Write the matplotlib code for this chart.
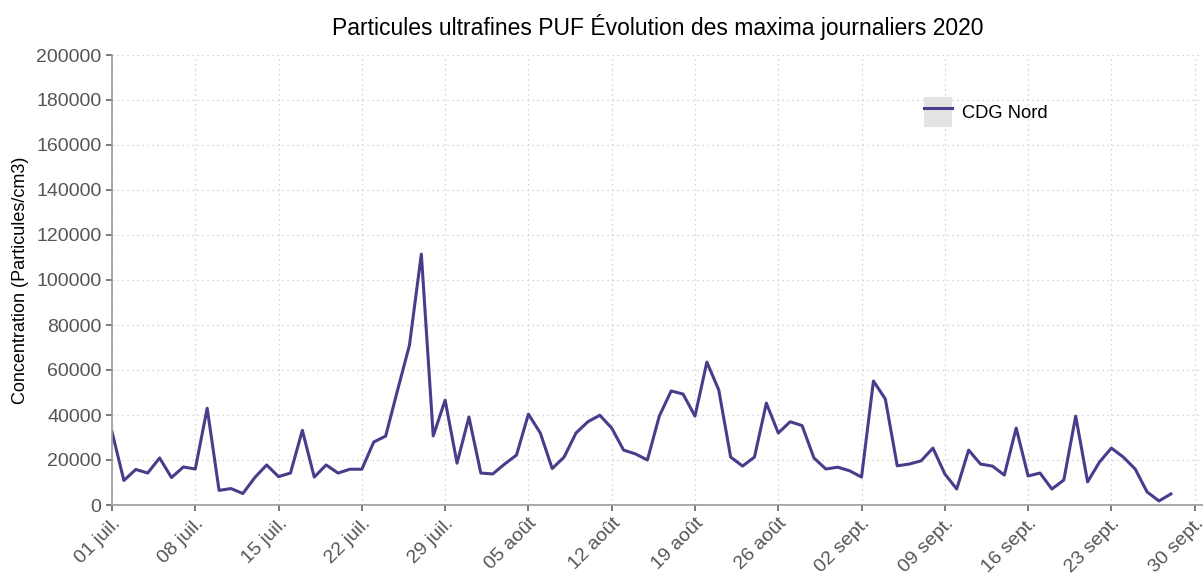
import matplotlib
matplotlib.use("Agg")
import matplotlib.pyplot as plt
import matplotlib.dates as mdates
import matplotlib.transforms as mtransforms
from matplotlib.patches import Patch
import pandas as pd

plt.rcParams['font.family'] = ['Liberation Sans', 'DejaVu Sans']

# daily maxima, 01/07/2020 -> 28/09/2020
station = "CDG Nord"
start_date = "2020-07-01"
values = [
    32500, 10900, 15800, 14200, 20900, 12200, 16900, 16000, 43000, 6500,
    7300, 5100, 12200, 17800, 12600, 14200, 33200, 12400, 17800, 14200,
    15900, 15900, 28000, 30600, 51000, 71000, 111500, 30700, 46600, 18600,
    39100, 14200, 13800, 18200, 22200, 40400, 32000, 16200, 21300, 32000,
    37000, 39900, 34200, 24400, 22700, 20000, 39500, 50700, 49300, 39500,
    63500, 51100, 21300, 17300, 21300, 45300, 32000, 37000, 35300, 20900,
    16000, 16800, 15200, 12400, 55100, 47100, 17400, 18200, 19600, 25300,
    13800, 7100, 24400, 18200, 17300, 13300, 34200, 12900, 14200, 7100,
    11100, 39500, 10300, 19100, 25300, 21300, 16000, 5800, 1800, 4900,
]
tick_dates = ["2020-07-01", "2020-07-08", "2020-07-15", "2020-07-22", "2020-07-29",
              "2020-08-05", "2020-08-12", "2020-08-19", "2020-08-26", "2020-09-02",
              "2020-09-09", "2020-09-16", "2020-09-23", "2020-09-30"]
tick_labels = ["01 juil.", "08 juil.", "15 juil.", "22 juil.", "29 juil.",
               "05 août", "12 août", "19 août", "26 août", "02 sept.",
               "09 sept.", "16 sept.", "23 sept.", "30 sept."]
y_ticks = [0, 20000, 40000, 60000, 80000, 100000, 120000, 140000, 160000, 180000, 200000]

dates = pd.date_range(start_date, periods=len(values), freq="D")

fig = plt.figure(figsize=(12.03, 5.74), dpi=100)
ax = fig.add_axes([112 / 1203, 1 - 505 / 574, 1 - 112 / 1203, (505 - 55) / 574])

line, = ax.plot(dates, values, color="#483D8B", linewidth=2.2, label=station)

ax.set_ylim(0, 200000)
ax.set_xlim(mdates.date2num(pd.Timestamp(start_date)),
            mdates.date2num(pd.Timestamp(start_date)) + 91.7)
ax.set_yticks(y_ticks)
ax.set_yticklabels([str(v) for v in y_ticks])
ax.set_xticks(pd.to_datetime(tick_dates))
ax.set_xticklabels(tick_labels, rotation=45, ha="right", rotation_mode="anchor")
shift = mtransforms.ScaledTranslation(5 / 100, -3 / 100, fig.dpi_scale_trans)
for lab in ax.get_xticklabels():
    lab.set_transform(lab.get_transform() + shift)

ax.grid(True, color="#c8c8c8", linestyle=(0, (1, 3)), linewidth=0.9)
ax.set_axisbelow(True)
for side in ["top", "right"]:
    ax.spines[side].set_visible(False)
for side in ["left", "bottom"]:
    ax.spines[side].set_color("#9a9a9a")
    ax.spines[side].set_linewidth(1.2)
ax.tick_params(axis="both", colors="#555555", labelsize=14, length=4, width=1.1)
ax.tick_params(axis="x", pad=3)

ax.set_ylabel("Concentration (Particules/cm3)", fontsize=13, color="black", labelpad=5)
fig.text(658 / 1203, 1 - 27 / 574, "Particules ultrafines PUF Évolution des maxima journaliers 2020",
         ha="center", va="center", fontsize=16.5, color="black")

key_bg = Patch(facecolor="#e3e3e3", edgecolor="none")
ax.legend([(key_bg, line)], [station], loc="center left",
          bbox_to_anchor=(915 / 1203, 1 - 112 / 574), bbox_transform=fig.transFigure,
          frameon=False, fontsize=13.2, borderpad=0, handlelength=1.53, handleheight=2.1,
          handletextpad=0.55)

fig.savefig("out.png", dpi=100)
